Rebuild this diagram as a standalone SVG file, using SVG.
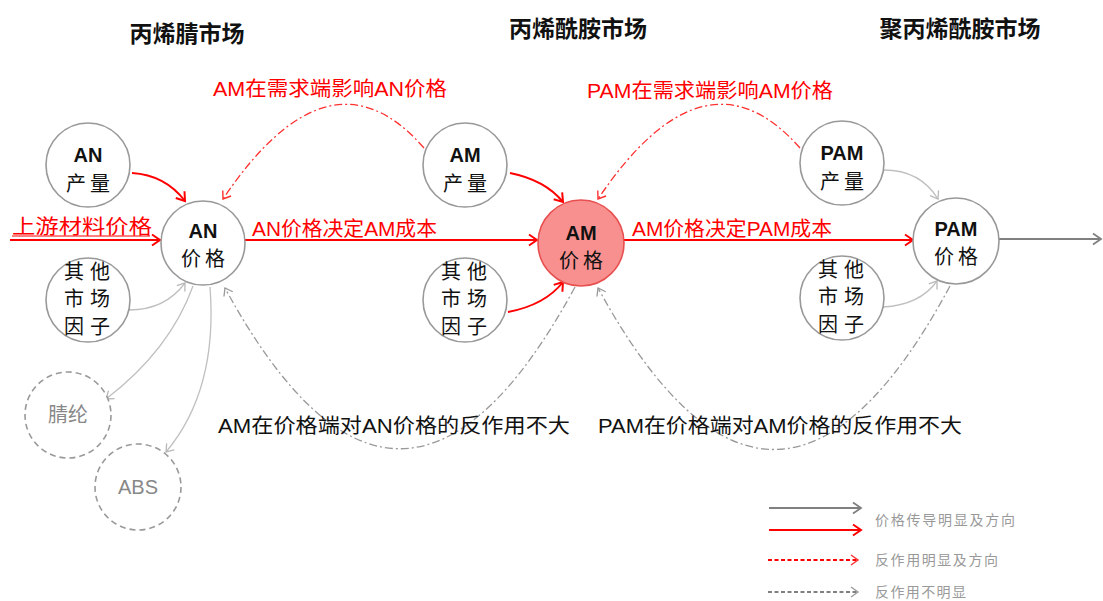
<svg xmlns="http://www.w3.org/2000/svg" width="1103" height="601" viewBox="0 0 1103 601">
<defs>
<marker id="mRed" markerUnits="userSpaceOnUse" markerWidth="14" markerHeight="14" refX="11" refY="7" orient="auto"><path d="M3,1.5 L11,7 L3,12.5" fill="none" stroke="#ff0000" stroke-width="2"/></marker>
<marker id="mGrey" markerUnits="userSpaceOnUse" markerWidth="14" markerHeight="14" refX="11" refY="7" orient="auto"><path d="M3,1.5 L11,7 L3,12.5" fill="none" stroke="#808080" stroke-width="1.8"/></marker>
<marker id="mLight" markerUnits="userSpaceOnUse" markerWidth="14" markerHeight="14" refX="11" refY="7" orient="auto"><path d="M4,2 L11,7 L4,12" fill="none" stroke="#b8b8b8" stroke-width="1.3"/></marker>
<marker id="mDash" markerUnits="userSpaceOnUse" markerWidth="14" markerHeight="14" refX="11" refY="7" orient="auto"><path d="M4,2 L11,7 L4,12" fill="none" stroke="#999999" stroke-width="1.3"/></marker>
<marker id="mRedDash" markerUnits="userSpaceOnUse" markerWidth="14" markerHeight="14" refX="11" refY="7" orient="auto"><path d="M4,2 L11,7 L4,12" fill="none" stroke="#ff3030" stroke-width="1.4"/></marker>
</defs>
<style>
.node{fill:#ffffff;stroke:#999999;stroke-width:1.6}
.nodeDash{fill:#ffffff;stroke:#999999;stroke-width:1.6;stroke-dasharray:6,4}
.hot{fill:#f99090;stroke:#e85050;stroke-width:1.6}
.t{font-family:"Liberation Sans","Noto Sans CJK SC",sans-serif;font-size:20px;fill:#111111;text-anchor:middle}
.tb{font-family:"Liberation Sans","Noto Sans CJK SC",sans-serif;font-size:20px;font-weight:bold;fill:#111111;text-anchor:middle}
.tg{font-family:"Liberation Sans","Noto Sans CJK SC",sans-serif;font-size:20px;fill:#888888;text-anchor:middle}
.hdr{font-family:"Noto Sans CJK SC",sans-serif;font-size:23px;font-weight:bold;fill:#111111;text-anchor:middle}
.red{font-family:"Liberation Sans","Noto Sans CJK SC",sans-serif;font-size:20px;fill:#ff0000}
.blk{font-family:"Liberation Sans","Noto Sans CJK SC",sans-serif;font-size:20px;fill:#111111}
.leg{font-family:"Noto Sans CJK SC",sans-serif;font-size:14px;fill:#999999}
.cRed{fill:none;stroke:#ff0000;stroke-width:2}
.cGrey{fill:none;stroke:#808080;stroke-width:2}
.cLight{fill:none;stroke:#c0c0c0;stroke-width:1.3}
.cRedDD{fill:none;stroke:#ff3030;stroke-width:1.3;stroke-dasharray:8,3,2,3}
.cGreyDD{fill:none;stroke:#999999;stroke-width:1.3;stroke-dasharray:8,3,2,3}
</style>

<g id="headers">
<text class="hdr" x="187" y="42">丙烯腈市场</text>
<text class="hdr" x="578" y="37">丙烯酰胺市场</text>
<text class="hdr" x="960" y="37">聚丙烯酰胺市场</text>
</g>

<g id="connectors">
<line class="cRed" x1="10" y1="240" x2="160" y2="240" marker-end="url(#mRed)"/>
<line x1="12" y1="236" x2="150" y2="236" stroke="#ff0000" stroke-width="1"/>
<line class="cRed" x1="245" y1="240" x2="537" y2="240" marker-end="url(#mRed)"/>
<line class="cRed" x1="624" y1="240" x2="913" y2="240" marker-end="url(#mRed)"/>
<line class="cGrey" x1="999" y1="239" x2="1101" y2="239" marker-end="url(#mGrey)"/>
<path class="cRed" d="M132,173 Q165,175 185,201" marker-end="url(#mRed)"/>
<path class="cRed" d="M510,173 Q545,180 563,202" marker-end="url(#mRed)"/>
<path class="cRed" d="M508,312 Q545,305 563,282" marker-end="url(#mRed)"/>
<path class="cLight" d="M129,310 Q165,310 185,283" marker-end="url(#mLight)"/>
<path class="cLight" d="M193,286 Q170,350 106,399" marker-end="url(#mLight)"/>
<path class="cLight" d="M210,287 Q218,390 166,452" marker-end="url(#mLight)"/>
<path class="cLight" d="M884,170 Q920,170 938,199" marker-end="url(#mLight)"/>
<path class="cLight" d="M883,307 Q920,305 937,281" marker-end="url(#mLight)"/>
<path class="cRedDD" d="M424,148 Q330,40 223,199" marker-end="url(#mRedDash)"/>
<path class="cRedDD" d="M800,148 Q705,40 598,199" marker-end="url(#mRedDash)"/>
<path class="cGreyDD" d="M575,287 Q400,610 225,288" marker-end="url(#mDash)"/>
<path class="cGreyDD" d="M950,286 Q775,612 598,288" marker-end="url(#mDash)"/>
</g>

<g id="labels">
<text class="red" x="12" y="234" textLength="140" lengthAdjust="spacingAndGlyphs">上游材料价格</text>
<text class="red" x="252" y="236" textLength="185" lengthAdjust="spacingAndGlyphs">AN价格决定AM成本</text>
<text class="red" x="632" y="236" textLength="200" lengthAdjust="spacingAndGlyphs">AM价格决定PAM成本</text>
<text class="red" x="213" y="96" textLength="234" lengthAdjust="spacingAndGlyphs">AM在需求端影响AN价格</text>
<text class="red" x="587" y="98" textLength="246" lengthAdjust="spacingAndGlyphs">PAM在需求端影响AM价格</text>
<text class="blk" x="218" y="433" textLength="352" lengthAdjust="spacingAndGlyphs">AM在价格端对AN价格的反作用不大</text>
<text class="blk" x="598" y="433" textLength="364" lengthAdjust="spacingAndGlyphs">PAM在价格端对AM价格的反作用不大</text>
</g>

<g id="n-an-output"><circle class="node" cx="88" cy="165" r="42"/><text class="tb" x="88" y="162">AN</text><text class="t" x="90" y="191" letter-spacing="4">产量</text></g>
<g id="n-an-other"><circle class="node" cx="88" cy="300" r="42"/><text class="t" x="90" y="279" letter-spacing="6">其他</text><text class="t" x="90" y="306" letter-spacing="6">市场</text><text class="t" x="90" y="334" letter-spacing="6">因子</text></g>
<g id="n-an-price"><circle class="node" cx="203" cy="243" r="42"/><text class="tb" x="203" y="238">AN</text><text class="t" x="205" y="266" letter-spacing="4">价格</text></g>
<g id="n-acrylic"><circle class="nodeDash" cx="68" cy="415" r="43"/><text class="tg" x="68" y="422">腈纶</text></g>
<g id="n-abs"><circle class="nodeDash" cx="138" cy="487" r="43"/><text class="tg" x="138" y="494">ABS</text></g>
<g id="n-am-output"><circle class="node" cx="465" cy="165" r="42"/><text class="tb" x="465" y="162">AM</text><text class="t" x="467" y="191" letter-spacing="4">产量</text></g>
<g id="n-am-other"><circle class="node" cx="465" cy="300" r="42"/><text class="t" x="467" y="279" letter-spacing="6">其他</text><text class="t" x="467" y="306" letter-spacing="6">市场</text><text class="t" x="467" y="334" letter-spacing="6">因子</text></g>
<g id="n-am-price"><circle class="hot" cx="581" cy="243" r="43"/><text class="tb" x="581" y="240">AM</text><text class="t" x="583" y="268" letter-spacing="4">价格</text></g>
<g id="n-pam-output"><circle class="node" cx="842" cy="163" r="42"/><text class="tb" x="842" y="160">PAM</text><text class="t" x="844" y="189" letter-spacing="4">产量</text></g>
<g id="n-pam-other"><circle class="node" cx="842" cy="298" r="42"/><text class="t" x="844" y="277" letter-spacing="6">其他</text><text class="t" x="844" y="304" letter-spacing="6">市场</text><text class="t" x="844" y="332" letter-spacing="6">因子</text></g>
<g id="n-pam-price"><circle class="node" cx="956" cy="241" r="43"/><text class="tb" x="956" y="236">PAM</text><text class="t" x="958" y="264" letter-spacing="4">价格</text></g>

<g id="legend">
<line x1="769" y1="508" x2="861" y2="508" class="cGrey" marker-end="url(#mGrey)"/>
<line x1="769" y1="530" x2="861" y2="530" class="cRed" marker-end="url(#mRed)"/>
<line x1="768" y1="560" x2="858" y2="560" stroke="#ff0000" stroke-width="1.8" stroke-dasharray="4,2.5" marker-end="url(#mRedDash)"/>
<line x1="768" y1="592" x2="858" y2="592" stroke="#808080" stroke-width="1.8" stroke-dasharray="4,2.5" marker-end="url(#mDash)"/>
<text class="leg" x="875" y="525" textLength="140" lengthAdjust="spacing">价格传导明显及方向</text>
<text class="leg" x="875" y="565" textLength="123" lengthAdjust="spacing">反作用明显及方向</text>
<text class="leg" x="875" y="597" textLength="91" lengthAdjust="spacing">反作用不明显</text>
</g>
</svg>
